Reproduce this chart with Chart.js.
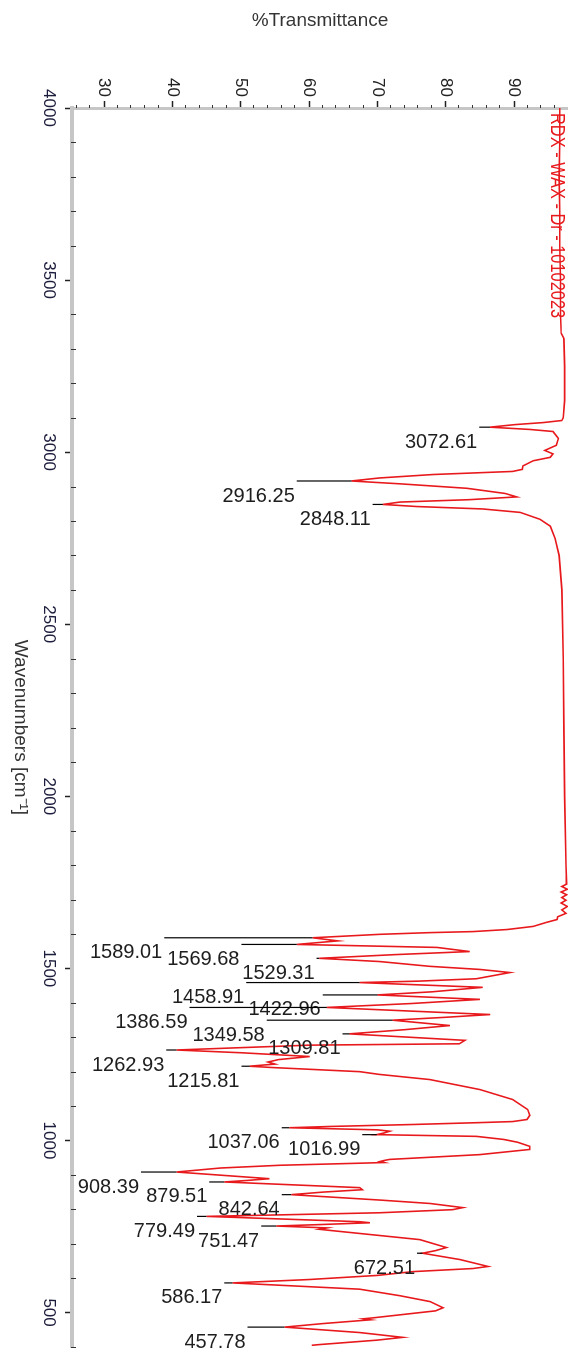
<!DOCTYPE html>
<html lang="en">
<head>
<meta charset="UTF-8">
<title>RDX - WAX - Dr - 10102023</title>
<style>
  html, body { margin: 0; padding: 0; background: #fff; overflow: hidden; }
  #wrap { position: relative; width: 568px; height: 1369px; overflow: hidden; }
  /* the spectrum is laid out as a normal landscape plot and turned a quarter clockwise */
  #spectrum { position: absolute; left: 0; top: 0; transform-origin: 0 0; transform: translate(568px, 0) rotate(90deg); }
</style>
</head>
<body>
<div id="wrap"><canvas id="spectrum" width="1369" height="568"></canvas></div>

<script src="https://cdn.jsdelivr.net/npm/chart.js@4"></script>
<script>
const spectrumName = 'RDX - WAX - Dr - 10102023';

const wavenumbers = [
  4000, 3900, 3800, 3700, 3600, 3500, 3400, 3345, 3330, 3250, 3150, 3100, 3092, 3086, 3080, 3072.61,
  3066, 3060, 3040, 3020, 3005, 2995, 2985, 2975, 2960, 2950, 2944, 2935, 2925, 2916.25,
  2908, 2895, 2880, 2870, 2862, 2855, 2848.11, 2842, 2835, 2825, 2805, 2785, 2750, 2700,
  2600, 2400, 2200, 2000, 1800, 1745, 1738, 1730, 1722, 1714, 1706, 1698, 1690, 1680, 1670, 1660,
  1650, 1642, 1634, 1622, 1613, 1607, 1604, 1599, 1589.01, 1580, 1569.68, 1561, 1549, 1540, 1529.31,
  1520, 1506, 1497, 1488, 1470, 1463, 1458.91, 1445, 1432, 1422.96, 1410, 1398, 1386.59,
  1366, 1358, 1349.58, 1334, 1322, 1309.81, 1291, 1281, 1277, 1262.93, 1255, 1244, 1235, 1228,
  1222, 1215.81, 1212, 1200, 1192, 1177, 1148, 1119, 1090, 1073, 1061, 1055, 1052, 1046.5, 1040.7,
  1037.06, 1031, 1027, 1022, 1016.99, 1012, 1003, 995, 983, 974, 959, 945, 942, 939, 936, 934,
  928, 920, 908.39, 900, 889, 884, 879.51, 863, 857, 850, 842.64, 827, 817, 805, 799, 790, 784,
  779.49, 764, 761, 756, 751.47, 746, 742, 738, 712, 689, 680, 672.51, 654, 634, 628, 619, 608,
  596, 586.17, 568, 549, 532, 514, 505, 485, 482, 479, 468, 457.78, 442, 428, 420, 407, 405
];

const transmittance = [
  96.7, 96.7, 96.6, 96.7, 96.7, 96.8, 96.8, 96.9, 97.3, 97.4, 97.4, 97.2, 97.0, 94.3, 90.1, 86.5,
  92.3, 95.7, 96.5, 96.2, 94.5, 95.7, 95.3, 92.8, 91.3, 91.2, 89.8, 78.1, 70.3, 66.2,
  73.3, 83.1, 88.7, 90.4, 83.5, 73.3, 70.8, 75.8, 85.4, 90.9, 93.8, 95.3, 96.0, 96.6,
  97.0, 97.2, 97.3, 97.4, 97.6, 97.7, 97.0, 97.8, 96.9, 97.7, 97.0, 97.6, 96.9, 97.8, 97.0, 97.6,
  96.4, 96.3, 94.8, 92.8, 89.0, 84.0, 77.7, 70.3, 60.5, 64.2, 58.2, 78.7, 83.5, 72.5, 61.5,
  70.3, 77.7, 85.0, 89.4, 84.5, 76.0, 67.4, 85.4, 78.0, 70.0, 85.0, 75.0, 62.6,
  86.5, 80.0, 72.2, 80.6, 74.0, 65.9, 82.8, 82.0, 60.0, 40.6, 50.0, 60.1, 55.5, 54.0,
  55.0, 51.3, 54.6, 67.4, 70.3, 77.7, 85.0, 89.8, 92.0, 92.3, 91.9, 89.8, 85.0, 75.2, 63.0,
  57.1, 70.0, 71.8, 71.0, 69.9, 84.5, 88.5, 90.5, 92.3, 92.3, 85.0, 71.8, 71.0, 70.4, 71.0, 67.4,
  55.7, 47.0, 40.6, 46.5, 54.2, 51.0, 47.6, 67.4, 67.8, 62.0, 57.4, 70.3, 77.7, 82.5, 81.0, 70.3, 56.0,
  45.0, 67.4, 68.9, 62.0, 55.2, 62.6, 61.5, 63.4, 76.2, 80.1, 78.5, 76.6, 82.1, 86.2, 84.0, 75.2, 70.0,
  60.0, 48.8, 67.4, 73.3, 77.7, 79.6, 78.5, 69.5, 68.0, 69.0, 62.0, 56.4, 67.4, 73.7, 70.0, 61.5, 60.4
];

// labelled peaks, and the %T where each label's leader line stops
const peakWavenumbers = [3072.61, 2916.25, 2848.11, 1589.01, 1569.68, 1529.31, 1458.91, 1422.96,
  1386.59, 1349.58, 1309.81, 1262.93, 1215.81, 1037.06, 1016.99, 908.39, 879.51, 842.64, 779.49,
  751.47, 672.51, 586.17, 457.78];
const peakLabels = peakWavenumbers.map(w => w.toFixed(2));
const peakLabelT = [84.9, 58.2, 69.3, 38.8, 50.1, 61.1, 50.8, 62.0, 42.5, 53.8, 64.9, 39.1, 50.1,
  56.0, 67.8, 35.4, 45.4, 56.0, 43.6, 53.0, 75.8, 47.6, 51.0];

const wavenumberTicks = [4000, 3500, 3000, 2500, 2000, 1500, 1000, 500];
const transmittanceTicks = [30, 40, 50, 60, 70, 80, 90];

const FONT = '"Liberation Sans", Arial, sans-serif';

// keep the plot area fixed: no extra room for the end tick labels
function noLabelPadding(s) {
  s.paddingTop = 0;
  s.paddingBottom = 0;
  s.paddingLeft = 0;
  s.paddingRight = 0;
}

const peakMarks = {
  id: 'peakMarks',
  afterDraw(chart) {
    const { ctx, chartArea, scales: { x, y } } = chart;
    ctx.save();

    // minor ticks (100 cm-1 and 2 %T)
    ctx.strokeStyle = '#333';
    ctx.lineWidth = 1;
    for (let w = 400; w <= 4000; w += 100) {
      if (w % 500 === 0) continue;
      const px = Math.round(x.getPixelForValue(w)) + 0.5;
      ctx.beginPath();
      ctx.moveTo(px, chartArea.bottom - 4);
      ctx.lineTo(px, chartArea.bottom + 1);
      ctx.stroke();
    }
    for (let t = 26; t <= 96; t += 2) {
      if (t % 10 === 0) continue;
      const py = Math.round(y.getPixelForValue(t)) + 0.5;
      ctx.beginPath();
      ctx.moveTo(chartArea.left - 3, py);
      ctx.lineTo(chartArea.left, py);
      ctx.stroke();
    }

    // peak leaders and labels
    ctx.font = '20px ' + FONT;
    ctx.fillStyle = '#1e1e1e';
    ctx.strokeStyle = '#000';
    ctx.lineWidth = 1.2;
    peakWavenumbers.forEach((w, i) => {
      const idx = wavenumbers.indexOf(w);
      const px = x.getPixelForValue(w);
      const tipY = y.getPixelForValue(transmittance[idx]);
      const endY = y.getPixelForValue(peakLabelT[i]);
      ctx.beginPath();
      ctx.moveTo(px, tipY);
      ctx.lineTo(px, endY);
      ctx.stroke();
      ctx.save();
      ctx.translate(px + 5, endY + 2);
      ctx.rotate(-Math.PI / 2);
      ctx.textAlign = 'right';
      ctx.textBaseline = 'top';
      ctx.fillText(peakLabels[i], 0, 0);
      ctx.restore();
    });

    // sample name in the corner of the plot
    ctx.fillStyle = '#e8191c';
    ctx.font = '21px ' + FONT;
    ctx.textAlign = 'left';
    ctx.textBaseline = 'top';
    ctx.translate(chartArea.left + 5, 1);
    ctx.scale(0.78, 1);
    ctx.fillText(spectrumName, 0, 0);
    ctx.restore();
  }
};

new Chart(document.getElementById('spectrum'), {
  type: 'line',
  data: {
    datasets: [{
      data: wavenumbers.map((w, i) => ({ x: w, y: transmittance[i] })),
      borderColor: '#e8191c',
      borderWidth: 1.6,
      pointRadius: 0,
      tension: 0,
      fill: false
    }]
  },
  options: {
    responsive: false,
    animation: false,
    devicePixelRatio: 1,
    layout: { padding: { left: 0, right: 22, top: 0, bottom: 0 } },
    plugins: { legend: { display: false }, tooltip: { enabled: false } },
    scales: {
      x: {
        type: 'linear',
        position: 'bottom',
        reverse: true,
        min: 400,
        max: 4000,
        afterBuildTicks: s => { s.ticks = wavenumberTicks.map(v => ({ value: v })); },
        afterFit: s => { s.height = 72; noLabelPadding(s); },
        grid: { drawOnChartArea: false, tickLength: 7, tickColor: '#222', tickWidth: 1.5 },
        border: { display: true, color: '#c6c6c6', width: 4 },
        ticks: {
          autoSkip: false, maxRotation: 0, minRotation: 0, padding: 6,
          color: '#1c1c3c', font: { family: FONT, size: 17 },
          callback: v => String(v)
        },
        title: {
          display: true, text: 'Wavenumbers [cm\u207B\u00B9]', color: '#333',
          font: { family: FONT, size: 19 }, padding: { top: 0, bottom: 9 }
        }
      },
      y: {
        type: 'linear',
        position: 'left',
        min: 25.3,
        max: 97.9,
        afterBuildTicks: s => { s.ticks = transmittanceTicks.map(v => ({ value: v })); },
        afterFit: s => { s.width = 108; noLabelPadding(s); },
        grid: { drawOnChartArea: false, tickLength: 7, tickColor: '#222', tickWidth: 1.5 },
        border: { display: true, color: '#c6c6c6', width: 3 },
        ticks: {
          padding: 4, color: '#222', font: { family: FONT, size: 17 },
          callback: v => String(v)
        },
        title: {
          display: true, text: '%Transmittance', color: '#333',
          font: { family: FONT, size: 19 }, padding: { top: 9, bottom: 0 }
        }
      }
    }
  },
  plugins: [peakMarks]
});
</script>
</body>
</html>
